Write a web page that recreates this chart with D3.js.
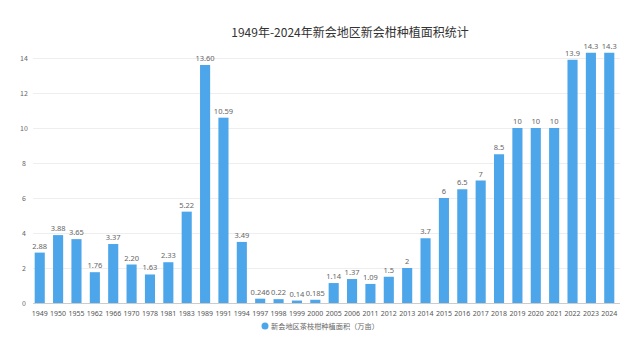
<!DOCTYPE html>
<html><head><meta charset="utf-8">
<script src="https://cdn.jsdelivr.net/npm/d3@7"></script>
<style>body{margin:0;background:#fff;}svg{display:block;font-family:"Noto Sans CJK SC","Noto Sans",sans-serif;}</style>
</head><body><svg id="c" width="640" height="360"></svg>
<script>
const title = "1949年-2024年新会地区新会柑种植面积统计";
const seriesName = "新会地区茶枝柑种植面积（万亩）";
const years = ["1949","1950","1955","1962","1966","1970","1978","1981","1983","1989","1991","1994","1997","1998","1999","2000","2005","2006","2011","2012","2013","2014","2015","2016","2017","2018","2019","2020","2021","2022","2023","2024"];
const values = [2.88,3.88,3.65,1.76,3.37,2.20,1.63,2.33,5.22,13.60,10.59,3.49,0.246,0.22,0.14,0.185,1.14,1.37,1.09,1.5,2,3.7,6,6.5,7,8.5,10,10,10,13.9,14.3,14.3];
const valueLabels = ["2.88","3.88","3.65","1.76","3.37","2.20","1.63","2.33","5.22","13.60","10.59","3.49","0.246","0.22","0.14","0.185","1.14","1.37","1.09","1.5","2","3.7","6","6.5","7","8.5","10","10","10","13.9","14.3","14.3"];
const yTicks = [0,2,4,6,8,10,12,14];

const svg = d3.select("#c");
const color = "#4ea6ea";
const x = d3.scaleBand().domain(years).range([31, 618]).paddingInner(0.45).paddingOuter(0.2);
const y = d3.scaleLinear().domain([0,14]).range([303, 58]);

// gridlines
svg.append("g").selectAll("line").data(yTicks).join("line")
  .attr("x1", 33).attr("x2", 620)
  .attr("y1", d=>y(d)).attr("y2", d=>y(d))
  .attr("stroke", d=> d===0 ? "#ccc" : "#eee").attr("stroke-width",1).attr("shape-rendering","crispEdges");

// y labels
svg.append("g").selectAll("text").data(yTicks).join("text")
  .attr("x", 24).attr("y", d=>y(d)+2.5).attr("text-anchor","middle")
  .attr("font-size", 7).attr("fill","#666").text(d=>d);

// x axis labels
const xa = svg.append("g").attr("transform","translate(0,303)")
  .call(d3.axisBottom(x).tickSize(0).tickPadding(8));
xa.select(".domain").remove();
xa.selectAll("text").attr("font-size",7).attr("fill","#555").attr("font-family","'Noto Sans',sans-serif");

// bars
svg.append("g").selectAll("rect").data(values).join("rect")
  .attr("x",(d,i)=>x(years[i])).attr("width",x.bandwidth())
  .attr("y",d=>y(d)).attr("height",d=>y(0)-y(d)).attr("fill",color);

// value labels
svg.append("g").selectAll("text").data(values).join("text")
  .attr("x",(d,i)=>x(years[i])+x.bandwidth()/2).attr("y",d=>y(d)-4)
  .attr("text-anchor","middle").attr("font-size",7.5).attr("fill","#666")
  .attr("font-family","'Noto Sans',sans-serif")
  .text((d,i)=>valueLabels[i]);

// title
svg.append("text").attr("x",350).attr("y",37).attr("text-anchor","middle")
  .attr("font-size",12).attr("fill","#333").text(title);

// legend
svg.append("circle").attr("cx",265).attr("cy",326).attr("r",3.5).attr("fill",color);
svg.append("text").attr("x",271).attr("y",329).attr("font-size",7.2).attr("fill","#666").text(seriesName);
</script></body></html>
